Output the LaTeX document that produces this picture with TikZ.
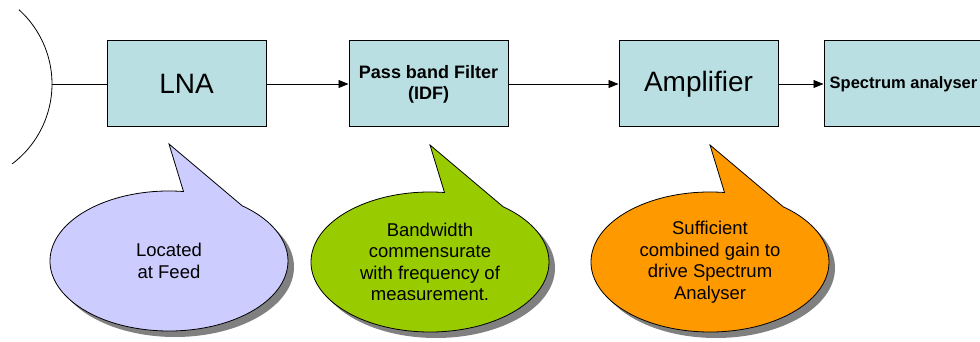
\documentclass[tikz,border=0pt]{standalone}
\usepackage{fontspec}
\setmainfont{Liberation Sans}
\usetikzlibrary{positioning, arrows.meta}
\definecolor{boxcyan}{RGB}{185,223,226}
\definecolor{feedblue}{RGB}{204,204,255}
\definecolor{filtergreen}{RGB}{153,204,0}
\definecolor{amporange}{RGB}{255,153,0}
\definecolor{shadowgray}{RGB}{128,128,128}
\tikzstyle{block} = [rectangle, minimum width=159pt, minimum height=86pt, text centered, align=center, draw=black, line width=1pt, fill=boxcyan, inner sep=2pt]
\tikzstyle{bubble} = [text centered, align=center, font=\fontsize{18.5}{21.5}\selectfont]
\tikzstyle{arrow} = [line width=0.8pt, -{Triangle[length=10pt,width=8pt]}]
\tikzstyle{wire} = [line width=0.8pt]
% speech balloon: centre coordinate, fill colour
\newcommand{\speechballoon}[2]{%
  \fill[shadowgray] ([shift={(6,6)}]#1) ellipse[x radius=119, y radius=70];
  \draw[fill=#2, line width=0.8pt] (#1) ++(-83:119 and 70)
    arc[start angle=-83, end angle=-412, x radius=119, y radius=70]
    -- ([shift={(0,-117)}]#1) -- cycle;
}

\begin{document}
\begin{tikzpicture}[x=1pt, y=-1pt, node distance=242pt]
\clip (0,0) rectangle (980,342);

% receive chain
\node (lna) [block, font=\fontsize{28}{32}\selectfont] at (186.5,84) {LNA};
\node (filter) [block, right of=lna, font=\bfseries\fontsize{18}{21}\selectfont] {Pass band Filter\\(IDF)};
\node (amp) [block, right of=filter, xshift=28pt, font=\fontsize{28}{32}\selectfont] {Amplifier};
\node (spec) [block, right of=amp, xshift=-37pt, font=\bfseries\fontsize{16.5}{19}\selectfont] {Spectrum analyser};

% antenna dish
\coordinate (feed) at (52,84);
\draw[wire] ([shift={(-100,0)}]feed) ++(-48:100) arc[start angle=-48, end angle=53, radius=100];
\draw[wire] (feed) -- (lna);
\draw[arrow] (lna) -- (filter);
\draw[arrow] (filter) -- (amp);
\draw[arrow] (amp) -- (spec);

% notes
\coordinate (feedc) at (169,261);
\speechballoon{feedc}{feedblue}
\node (feednote) [bubble] at (feedc) {Located\\at Feed};

\coordinate (filterc) at (430,262);
\speechballoon{filterc}{filtergreen}
\node (filternote) [bubble] at (filterc) {Bandwidth\\commensurate\\with frequency of\\measurement.};

\coordinate (ampc) at (710,262);
\speechballoon{ampc}{amporange}
\node (ampnote) [bubble] at (ampc) {Sufficient\\combined gain to\\drive Spectrum\\Analyser};

\end{tikzpicture}
\end{document}
